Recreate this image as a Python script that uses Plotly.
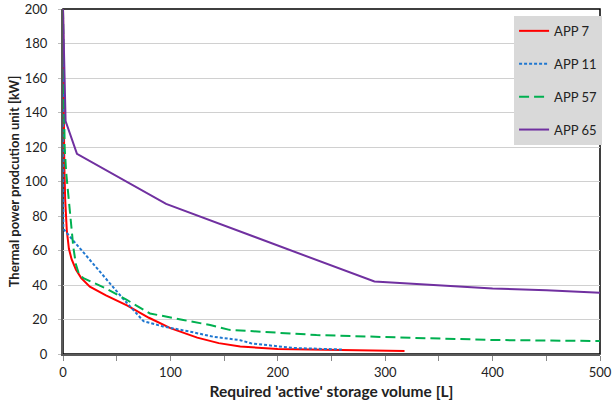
import plotly.graph_objects as go

# Required active storage volume [L] vs. thermal power of the production unit [kW]
app7_vol = [0, 0.2, 0.6, 1.2, 2, 3.5, 5.5, 8, 12, 17, 25, 40, 60, 80, 100, 125, 145, 165, 200, 250, 318]
app7_pow = [200, 175, 140, 110, 90, 72, 61, 55, 49, 44, 39, 34, 28, 21, 15, 9.5, 6.3, 4.3, 2.9, 2.3, 1.7]

app11_vol = [0, 0.1, 0.2, 0.3, 1, 12, 40, 56, 75, 93, 118, 140, 165, 175, 214, 260]
app11_pow = [200, 160, 110, 74, 72, 64, 44, 32, 19, 16, 13, 10, 8, 6.2, 3.5, 2.6]

app57_vol = [0, 0.5, 1.5, 3, 4.5, 6.5, 9.6, 12, 15, 19, 40, 59, 81, 112, 137, 155, 236, 341, 403, 500]
app57_pow = [200, 150, 120, 105, 95, 80, 62, 52, 46, 44, 38, 31.5, 23.5, 19.7, 16.8, 14, 11, 9.1, 8.1, 7.5]

app65_vol = [0, 1, 2.4, 13, 96, 290, 350, 400, 450, 500]
app65_pow = [200, 170, 135, 116, 87, 42, 40, 38, 37, 35.5]

series = [
    ("APP 7", app7_vol, app7_pow, "#ff0000", "solid"),
    ("APP 11", app11_vol, app11_pow, "#1f77d0", "3px,2px"),
    ("APP 57", app57_vol, app57_pow, "#00b050", "10px,5px"),
    ("APP 65", app65_vol, app65_pow, "#7030a0", "solid"),
]

fig = go.Figure()
for name, xs, ys, color, dash in series:
    fig.add_trace(go.Scatter(
        x=xs, y=ys, mode="lines", name=name, legendgroup=name,
        line=dict(color=color, width=2, dash=dash),
    ))

font_family = "Lato, 'Open Sans', sans-serif"

fig.update_layout(
    width=613, height=404,
    margin=dict(l=63, r=13, t=9, b=50, autoexpand=False),
    paper_bgcolor="white", plot_bgcolor="white",
    font=dict(family=font_family, size=13, color="#222222"),
    showlegend=True,
    legend=dict(
        x=0.84, y=0.98, xanchor="left", yanchor="top",
        bgcolor="#d9d9d9", borderwidth=0,
        font=dict(size=13, color="#222222"),
        tracegroupgap=13, itemwidth=30,
    ),
    xaxis=dict(
        range=[0, 500], dtick=100, tick0=0, automargin=False,
        showgrid=False, zeroline=False,
        showline=True, linecolor="#595959", linewidth=2,
        ticks="outside", ticklen=5, tickcolor="#888888",
        minor=dict(dtick=50, ticks="outside", ticklen=5, tickcolor="#888888"),
        title=dict(text="<b>Required 'active' storage volume [L]</b>",
                   font=dict(size=15.5, color="#222222"), standoff=8),
        tickfont=dict(size=13),
    ),
    yaxis=dict(
        range=[0, 200], dtick=20, tick0=0, automargin=False,
        showgrid=True, gridcolor="#d0d0d0", gridwidth=1,
        zeroline=False,
        showline=True, linecolor="#595959", linewidth=2,
        ticks="outside", ticklen=3, tickcolor="#bbbbbb",
        ticklabelstandoff=8,
        title=dict(text="<b>Thermal power prodcution unit [kW]</b>",
                   font=dict(size=13, color="#222222"), standoff=2),
        tickfont=dict(size=13),
    ),
    shapes=[dict(
        type="rect", xref="paper", yref="paper", x0=0, y0=0, x1=1, y1=1,
        line=dict(color="black", width=1.5), layer="below",
    )],
)

fig.write_html("out.html")
